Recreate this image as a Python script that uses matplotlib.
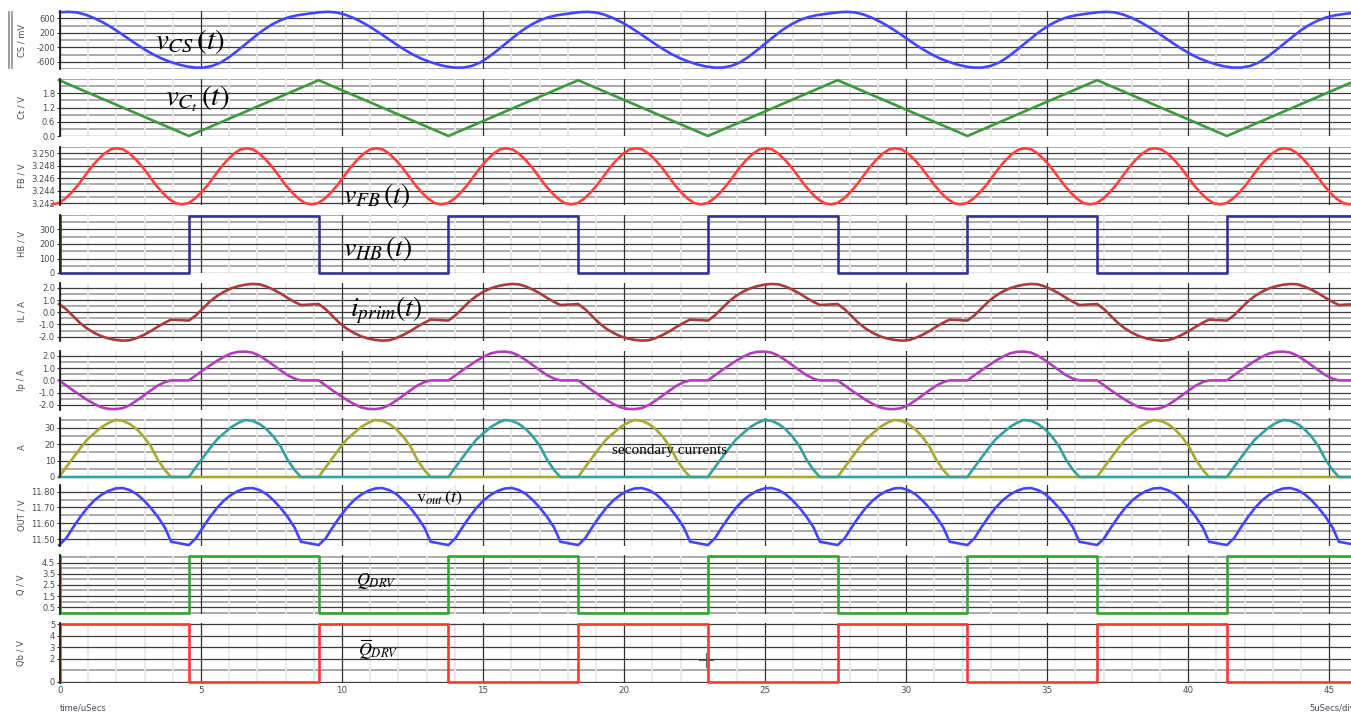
import numpy as np
import matplotlib.pyplot as plt
from matplotlib.lines import Line2D

plt.rcParams['mathtext.fontset'] = 'stix'
plt.rcParams['font.family'] = 'DejaVu Sans'

# switching period of the converter, uSecs
period = 9.2
t_end = 45.77

# CS current sense voltage, one period (mV)
cs_t = [0.0, 0.3, 0.6, 0.9, 1.2, 1.5, 1.8, 2.1, 2.4, 2.7, 3.0, 3.3, 3.6, 3.9, 4.2, 4.5, 4.8,
        5.1, 5.4, 5.7, 6.0, 6.3, 6.6, 6.9, 7.2, 7.5, 7.8, 8.1, 8.4, 8.7, 9.0, 9.2]
cs_v = [765, 778, 760, 700, 610, 495, 360, 210, 50, -110, -260, -395, -510, -600, -675, -730,
        -762, -760, -715, -620, -470, -290, -100, 90, 270, 420, 540, 625, 680, 715, 745, 765]

# Ct timing capacitor, triangle vertices (V)
ct_t = [-0.03, 4.57, 9.17]
ct_v = [2.35, 0.0, 2.35]

# FB voltage, one half period starting at a trough (V)
fb_t = [-0.28, -0.05, 0.18, 0.41, 0.64, 0.87, 1.1, 1.33, 1.56, 1.79, 2.02, 2.25, 2.48, 2.71,
        2.94, 3.17, 3.4, 3.63, 3.86, 4.09, 4.32]
fb_v = [3.2418, 3.2420, 3.2427, 3.2437, 3.2449, 3.2463, 3.2477, 3.2489, 3.2499, 3.2506, 3.2508,
        3.2506, 3.2499, 3.2489, 3.2477, 3.2463, 3.2449, 3.2437, 3.2427, 3.2420, 3.2418]

# HB half bridge node: edge times (uSecs), starts high
hb_edges = [0.0, 4.57, 9.17, 13.77, 18.37, 22.97, 27.57, 32.17, 36.77, 41.37, 45.97]
hb_lo, hb_hi = 0, 390

# one period time base for the current traces (starts at HB falling edge)
cur_t = [-0.03, 0.22, 0.47, 0.72, 0.97, 1.22, 1.47, 1.72, 1.97, 2.22, 2.47, 2.72, 2.97, 3.22,
         3.47, 3.72, 3.94, 4.57, 4.82, 5.07, 5.32, 5.57, 5.82, 6.07, 6.32, 6.57, 6.82, 7.07,
         7.32, 7.57, 7.82, 8.07, 8.32, 8.54, 9.17]

# IL primary current (A)
il_v = [0.68, 0.25, -0.32, -0.9, -1.35, -1.7, -1.97, -2.15, -2.27, -2.33, -2.3, -2.12, -1.86,
        -1.55, -1.18, -0.85, -0.6, -0.68, -0.25, 0.32, 0.9, 1.35, 1.7, 1.97, 2.15, 2.27, 2.33,
        2.3, 2.12, 1.86, 1.55, 1.18, 0.85, 0.6, 0.68]

# Ip reflected load current (A)
ip_v = [0.0, -0.42, -0.83, -1.22, -1.6, -1.93, -2.2, -2.33, -2.35, -2.27, -2.02, -1.65, -1.23,
        -0.82, -0.42, -0.14, 0.0, 0.0, 0.42, 0.83, 1.22, 1.6, 1.93, 2.2, 2.33, 2.35, 2.27, 2.02,
        1.65, 1.23, 0.82, 0.42, 0.14, 0.0, 0.0]

# secondary rectifier currents (A)
sec1_v = [0, 6.0, 11.8, 17.6, 23.0, 26.8, 30.4, 33.0, 34.8, 34.3, 32.4, 29.2, 24.6, 18.7, 10.5,
          4.2, 0, 0, 0, 0, 0, 0, 0, 0, 0, 0, 0, 0, 0, 0, 0, 0, 0, 0, 0]
sec2_v = [0, 0, 0, 0, 0, 0, 0, 0, 0, 0, 0, 0, 0, 0, 0, 0, 0, 0, 6.0, 11.8, 17.6, 23.0, 26.8,
          30.4, 33.0, 34.8, 34.3, 32.4, 29.2, 24.6, 18.7, 10.5, 4.2, 0, 0]

# OUT output voltage, one half period (V)
out_t = [-0.03, 0.22, 0.47, 0.72, 0.97, 1.22, 1.47, 1.72, 1.97, 2.22, 2.47, 2.72, 2.97, 3.22,
         3.47, 3.72, 3.94, 4.57]
out_v = [11.462, 11.505, 11.575, 11.64, 11.698, 11.745, 11.78, 11.805, 11.82, 11.823, 11.81,
         11.785, 11.745, 11.697, 11.64, 11.572, 11.483, 11.462]

# Q / Qb gate drive levels (V), same edges as HB
q_lo, q_hi = 0.0, 5.1
qb_lo, qb_hi = 0.0, 5.0


def tile(t, v, per, reps):
    t = np.asarray(t[:-1], dtype=float)
    v = np.asarray(v[:-1], dtype=float)
    tt = np.concatenate([t + per * k for k in range(reps)] + [[t[0] + per * reps]])
    vv = np.concatenate([v] * reps + [[v[0]]])
    return tt, vv


def square(edges, lo, hi, start_high):
    tt = np.repeat(edges, 2)
    lv = []
    state = start_high
    for _ in edges:
        lv.append(hi if state else lo)
        state = not state
        lv.append(hi if state else lo)
    return tt, np.array(lv)


W, H = 1351, 712
fig = plt.figure(figsize=(W / 100, H / 100), dpi=100)

tops = [11, 79, 147, 215, 283, 351, 418, 485, 555, 623]
bots = [69, 136, 205, 273, 341, 410, 477, 546, 614, 683]
x0 = 60

panels = [
    dict(lab='CS / mV', ylim=(-800, 800), maj=[-600, -200, 200, 600], mi=np.arange(-800, 801, 200), fmt='{:.0f}'),
    dict(lab='Ct / V', ylim=(0, 2.4), maj=[0.0, 0.6, 1.2, 1.8], mi=np.arange(0, 2.41, 0.3), fmt='{:.1f}'),
    dict(lab='FB / V', ylim=(3.2417, 3.2510), maj=[3.242, 3.244, 3.246, 3.248, 3.250], mi=np.arange(3.242, 3.2511, 0.001), fmt='{:.3f}'),
    dict(lab='HB / V', ylim=(0, 400), maj=[0, 100, 200, 300], mi=np.arange(0, 401, 50), fmt='{:.0f}'),
    dict(lab='IL / A', ylim=(-2.36, 2.41), maj=[-2, -1, 0, 1, 2], mi=np.arange(-2, 2.01, 0.5), fmt='{:.1f}'),
    dict(lab='Ip / A', ylim=(-2.42, 2.4), maj=[-2, -1, 0, 1, 2], mi=np.arange(-2, 2.01, 0.5), fmt='{:.1f}'),
    dict(lab='A', ylim=(0, 36), maj=[0, 10, 20, 30], mi=np.arange(0, 36, 5), fmt='{:.0f}'),
    dict(lab='OUT / V', ylim=(11.456, 11.842), maj=[11.5, 11.6, 11.7, 11.8], mi=np.arange(11.5, 11.81, 0.05), fmt='{:.2f}'),
    dict(lab='Q / V', ylim=(-0.12, 5.2), maj=[0.5, 1.5, 2.5, 3.5, 4.5], mi=np.arange(0, 5.01, 0.5), fmt='{:.1f}'),
    dict(lab='Qb / V', ylim=(-0.12, 5.1), maj=[0, 2, 3, 4, 5], mi=np.arange(0, 5.01, 1), fmt='{:.0f}'),
]

axes = []
for i, p in enumerate(panels):
    ax = fig.add_axes([x0 / W, 1 - bots[i] / H, (W - x0) / W, (bots[i] - tops[i]) / H])
    ax.set_xlim(0, t_end)
    ax.set_ylim(*p['ylim'])
    for v in p['mi']:
        if not any(abs(v - m) < 1e-9 for m in p['maj']):
            ax.axhline(v, color='#a9a9a9', lw=1.4, zorder=0)
    for m in p['maj']:
        ax.axhline(m, color='#3c3c3c', lw=0.9, zorder=0.5)
    for xv in range(0, 46):
        if xv % 5:
            ax.axvline(xv, color='#e8e8e8', lw=1.3, zorder=0.2)
        else:
            ax.axvline(xv, color='#303030', lw=0.9, zorder=0.6)
    ax.set_yticks(p['maj'])
    ax.set_yticklabels([p['fmt'].format(m) for m in p['maj']])
    ax.tick_params(axis='y', length=2, width=0.8, color='#333333', pad=1.5,
                   labelsize=6, labelcolor='#4a4a55')
    ax.set_xticks(range(0, 46, 5))
    ax.tick_params(axis='x', length=0, pad=2, labelsize=6.3, labelcolor='#4a4a55')
    if i < len(panels) - 1:
        ax.set_xticklabels([])
    for s in ['top', 'right', 'bottom']:
        ax.spines[s].set_visible(False)
    ax.spines['left'].set_color('#202020')
    ax.spines['left'].set_linewidth(1.3)
    ax.patch.set_alpha(0)
    fig.text(22 / W, 1 - (tops[i] + bots[i]) / 2 / H, p['lab'], rotation=90,
             ha='center', va='center', fontsize=6, color='#4a4a55')
    axes.append(ax)

lw = 1.9
reps = int(t_end // period) + 2

t, v = tile(cs_t, cs_v, period, reps)
axes[0].plot(t, v, color='#4545ff', lw=lw, clip_on=False)

t, v = tile(ct_t, ct_v, period, reps)
axes[1].plot(t, v, color='#3c9a3c', lw=lw, clip_on=False)

t, v = tile(fb_t, fb_v, period / 2, 2 * reps)
axes[2].plot(t, v, color='#ff4040', lw=lw, clip_on=False)

t, v = square(hb_edges, hb_lo, hb_hi, True)
axes[3].plot(t, v, color='#333399', lw=lw, clip_on=False)

t, v = tile(cur_t, il_v, period, reps)
axes[4].plot(t, v, color='#a83c3c', lw=lw, clip_on=False)

t, v = tile(cur_t, ip_v, period, reps)
axes[5].plot(t, v, color='#b040b8', lw=lw, clip_on=False)

t, v = tile(cur_t, sec1_v, period, reps)
axes[6].plot(t, v, color='#a8a832', lw=lw, clip_on=False)
t, v = tile(cur_t, sec2_v, period, reps)
axes[6].plot(t, v, color='#35a0a0', lw=lw, clip_on=False)

t, v = tile(out_t, out_v, period / 2, 2 * reps)
axes[7].plot(t, v, color='#4545ff', lw=lw, clip_on=False)

t, v = square(hb_edges, q_lo, q_hi, True)
axes[8].plot(t, v, color='#35a535', lw=lw, clip_on=False)

t, v = square(hb_edges, qb_lo, qb_hi, False)
axes[9].plot(t, v, color='#ff3535', lw=lw, clip_on=False)


def fx(x):
    return x / W


def fy(y):
    return 1 - y / H


# trace annotations
fig.text(fx(155), fy(49), r'$v_{CS}\,(t)$', fontsize=21, va='baseline')
fig.text(fx(165), fy(105), r'$v_{C_t}\,(t)$', fontsize=21, va='baseline')
fig.text(fx(343), fy(203), r'$v_{FB}\,(t)$', fontsize=20, va='baseline')
fig.text(fx(343), fy(256), r'$v_{HB}\,(t)$', fontsize=20, va='baseline')
fig.text(fx(350), fy(316), r'$i_{prim}(t)$', fontsize=20, va='baseline')
fig.text(fx(612), fy(454), 'secondary currents', fontsize=11, va='baseline',
         family='Liberation Serif')
fig.text(fx(416), fy(502), r'$\mathrm{v}_{out}\,(t)$', fontsize=13, va='baseline')
fig.text(fx(356), fy(585), r'$Q_{DRV}$', fontsize=13, va='baseline')
qb_txt = fig.text(fx(358), fy(655), r'$Q_{DRV}$', fontsize=13, va='baseline')
# bar over the Q of the complementary drive label
fig.add_artist(Line2D([fx(361), fx(371)], [fy(640), fy(640)], color='black', lw=0.8))

# footer text
fig.text(fx(60), fy(708), 'time/uSecs', fontsize=6, color='#4a4a55', va='center')
fig.text(fx(1309), fy(708), '5uSecs/div', fontsize=6, color='#4a4a55', va='center')

# selection marks and cursor
for xm in (8.5, 12):
    fig.add_artist(Line2D([fx(xm), fx(xm)], [fy(12), fy(68)], color='#8a8a8a', lw=1.2))
fig.add_artist(Line2D([fx(699), fx(713)], [fy(660), fy(660)], color='#666666', lw=0.8))
fig.add_artist(Line2D([fx(706), fx(706)], [fy(653), fy(667)], color='#666666', lw=0.8))

fig.savefig('out.png', dpi=100)
